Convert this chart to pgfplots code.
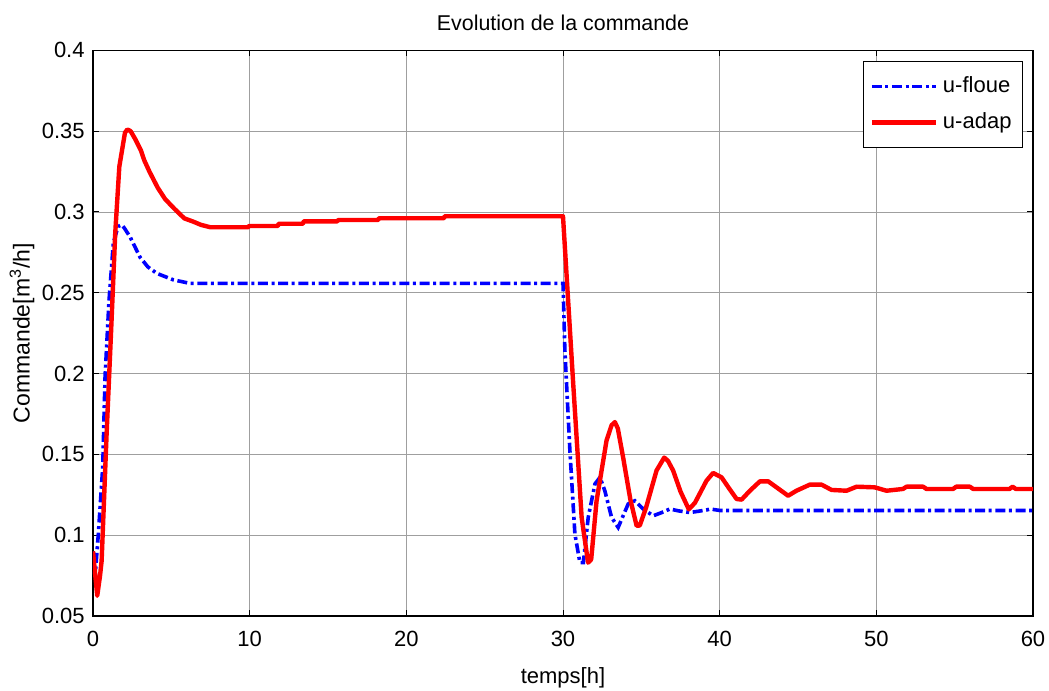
\documentclass[border=0pt]{standalone}
\usepackage{fontspec}
\setmainfont{Liberation Sans}
\usepackage{pgfplots}
\pgfplotsset{compat=1.18}
\begin{document}
\fontsize{11}{13}\selectfont
\begin{tikzpicture}
\useasboundingbox (-46.5pt,-37.15pt) rectangle (478pt,308pt);
\begin{axis}[
  scale only axis,
  width=470pt, height=282.85pt,
  xmin=0, xmax=60, ymin=0.05, ymax=0.4,
  xtick={0,10,20,30,40,50,60},
  ytick={0.05,0.1,0.15,0.2,0.25,0.3,0.35,0.4},
  yticklabels={0.05,0.1,0.15,0.2,0.25,0.3,0.35,0.4},
  /pgf/number format/assume math mode=true,
  tick align=inside,
  major tick length=3pt,
  tick style={black, line width=0.5pt},
  axis line style={black, line width=0.7pt},
  grid=major,
  major grid style={gray!75, line width=0.35pt},
  ticklabel style={font=\fontsize{11}{13}\selectfont},
  xticklabel style={anchor=north, inner sep=0pt, yshift=-7.5pt},
  yticklabel style={anchor=east, inner sep=0pt, xshift=-4pt},
  title={Evolution de la commande},
  title style={at={(axis description cs:0.5,1)}, anchor=center, yshift=7.5pt, inner sep=0pt, font=\fontsize{10.7}{12}\selectfont},
  xlabel={temps[h]},
  xlabel style={at={(axis description cs:0.5,0)}, anchor=center, yshift=-31pt, inner sep=0pt, font=\fontsize{11}{13}\selectfont},
  ylabel={Commande[m\textsuperscript{3}/h]},
  ylabel style={at={(axis description cs:0,0.5)}, anchor=center, yshift=35.5pt, inner sep=0pt, font=\fontsize{11.5}{13}\selectfont},
  legend style={at={(axis description cs:1,1)}, anchor=north east, xshift=-5pt, yshift=-5.5pt,
    draw=black, line width=0.5pt, fill=white, inner xsep=3pt, inner ysep=5pt, row sep=3.5pt,
    font=\fontsize{11}{13}\selectfont,
    nodes={inner sep=2.5pt}},
  legend cell align=left,
  legend image code/.code={\draw[#1] (0pt,0pt) -- (32pt,0pt);},
]
\addplot[blue, line width=1.8pt, dash pattern=on 5pt off 1.8pt on 1.5pt off 1.8pt] coordinates {
(0,0.090)(0.13,0.074)(0.34,0.1007)(0.62,0.142)(0.77,0.198)(1.02,0.245)(1.3,0.281)(1.6,0.291)(1.83,0.292)(2.0,0.290)(2.36,0.2847)(3.0,0.272)(3.5,0.266)(4.07,0.262)(5.12,0.258)(6.19,0.2558)(30,0.2558)
(30.12,0.2144)(30.44,0.1524)(30.76,0.1007)(31.08,0.083)(31.3,0.083)(31.61,0.111)(32.04,0.1317)(32.36,0.1358)(32.67,0.1275)(33.1,0.111)(33.52,0.1048)(34.16,0.1193)(34.59,0.1213)(35.12,0.1162)(35.76,0.112)(36.3,0.114)(36.82,0.1162)(37.4,0.115)(38.1,0.114)(39.16,0.1156)(39.4,0.1162)(40,0.1153)(60,0.1153)
};
\addlegendentry{u-floue}
\addplot[red, line width=2.2pt, line join=round] coordinates {
(0,0.090)(0.27,0.0625)(0.45,0.075)(0.55,0.084)(0.66,0.111)(0.87,0.163)(1.15,0.225)(1.42,0.287)(1.68,0.328)(2.04,0.349)(2.19,0.351)(2.4,0.350)(2.7,0.345)(3.06,0.338)(3.27,0.332)(3.6,0.325)(4.13,0.315)(4.6,0.308)(5.19,0.302)(5.83,0.296)(6.4,0.294)(6.89,0.292)(7.5,0.2905)
(9.9,0.2905)(9.95,0.2913)(11.8,0.2913)(11.85,0.2927)(13.4,0.2927)(13.45,0.2942)(15.6,0.2942)(15.65,0.295)(18.2,0.295)(18.25,0.2961)(22.4,0.2961)(22.45,0.2973)(30,0.2973)
(30.65,0.194)(31.19,0.111)(31.6,0.083)(31.8,0.085)(32.14,0.121)(32.78,0.1586)(33.1,0.168)(33.31,0.170)(33.5,0.166)(33.84,0.148)(34.3,0.122)(34.7,0.1058)(34.9,0.106)(35.3,0.117)(35.97,0.140)(36.46,0.148)(36.7,0.146)(37.03,0.140)(37.5,0.127)(38.03,0.116)(38.42,0.120)(39.16,0.1337)(39.58,0.1385)(40.12,0.1358)(40.6,0.129)(41.08,0.1224)(41.4,0.122)(41.93,0.1275)(42.57,0.1333)(43.1,0.1333)(43.63,0.1296)(44.37,0.1244)(44.9,0.1275)(45.76,0.1313)(46.5,0.1313)(47.14,0.128)(48.1,0.1275)(48.74,0.130)(49.9,0.1296)(50.65,0.1275)(51.7,0.1286)(51.93,0.130)(52.99,0.130)(53.2,0.1286)(54.9,0.1286)(55.1,0.130)(55.97,0.130)(56.18,0.1286)(58.5,0.1286)(58.7,0.130)(58.9,0.1286)(60,0.1286)
};
\addlegendentry{u-adap}
\end{axis}
\end{tikzpicture}
\end{document}
